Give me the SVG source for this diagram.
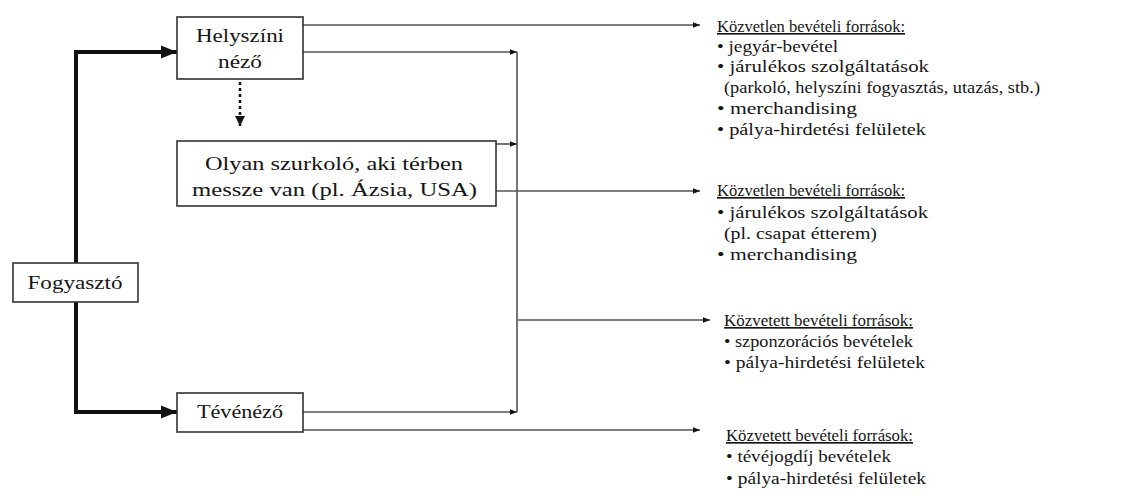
<svg xmlns="http://www.w3.org/2000/svg" width="1148" height="497" viewBox="0 0 1148 497">
<style>
.box{fill:#fff;stroke:#333;stroke-width:1.6}
.t{font-family:"Liberation Serif",serif;font-size:16.5px;fill:#151515}
.b{font-family:"Liberation Serif",serif;font-size:18px;fill:#151515;text-anchor:middle}
.h{text-decoration:underline}
.ln{fill:none;stroke:#555;stroke-width:1.6}
.thick{fill:none;stroke:#111;stroke-width:4}
.dot{fill:none;stroke:#111;stroke-width:2.5;stroke-dasharray:3 3}
</style>
<defs>
<marker id="a" viewBox="0 0 10 10" refX="10" refY="5" markerWidth="7" markerHeight="7" markerUnits="userSpaceOnUse" orient="auto"><path d="M0,1 L10,5 L0,9 z" fill="#111"/></marker>
<marker id="ab" viewBox="0 0 10 10" refX="10" refY="5" markerWidth="4" markerHeight="4" orient="auto"><path d="M0,1 L10,5 L0,9 z" fill="#111"/></marker>
<marker id="ad" viewBox="0 0 10 10" refX="10" refY="5" markerWidth="4" markerHeight="4" orient="auto"><path d="M0,0 L10,5 L0,10 z" fill="#111"/></marker>
</defs>
<g id="connectors">
<path class="thick" d="M76 263 V52 H177" marker-end="url(#ab)"/>
<path class="thick" d="M76 302 V412 H177" marker-end="url(#ab)"/>
<path class="dot" d="M240 82 V126" marker-end="url(#ad)"/>
<path class="ln" d="M303 25 H700" marker-end="url(#a)"/>
<path class="ln" d="M303 52 H517" marker-end="url(#a)"/>
<path class="ln" d="M496 144 H517" marker-end="url(#a)"/>
<path class="ln" d="M496 191 H700" marker-end="url(#a)"/>
<path class="ln" d="M303 412 H517" marker-end="url(#a)"/>
<path class="ln" d="M303 430 H700" marker-end="url(#a)"/>
<path class="ln" d="M517 52 V412"/>
<path class="ln" d="M517 320 H710" marker-end="url(#a)"/>
</g>
<g id="helyszini">
<rect class="box" x="177" y="17" width="126" height="62"/>
<text class="b" x="240" y="42" textLength="88" lengthAdjust="spacingAndGlyphs">Helyszíni</text>
<text class="b" x="240" y="68" textLength="44" lengthAdjust="spacingAndGlyphs">néző</text>
</g>
<g id="olyan">
<rect class="box" x="177" y="141" width="319" height="65"/>
<text class="b" x="334" y="170" textLength="258" lengthAdjust="spacingAndGlyphs">Olyan szurkoló, aki térben</text>
<text class="b" x="334.5" y="196" textLength="285" lengthAdjust="spacingAndGlyphs">messze van (pl. Ázsia, USA)</text>
</g>
<g id="fogyaszto">
<rect class="box" x="13" y="263" width="125" height="39"/>
<text class="b" x="75" y="289" textLength="95" lengthAdjust="spacingAndGlyphs">Fogyasztó</text>
</g>
<g id="teve">
<rect class="box" x="177" y="393" width="126" height="39"/>
<text class="b" x="240" y="418" textLength="86" lengthAdjust="spacingAndGlyphs">Tévénéző</text>
</g>
<g id="group1">
<text class="t h" x="717" y="32" textLength="188" lengthAdjust="spacingAndGlyphs">Közvetlen bevételi források:</text>
<text class="t" x="717" y="52" textLength="121" lengthAdjust="spacingAndGlyphs">• jegyár-bevétel</text>
<text class="t" x="717" y="72" textLength="212" lengthAdjust="spacingAndGlyphs">• járulékos szolgáltatások</text>
<text class="t" x="724" y="93" textLength="316" lengthAdjust="spacingAndGlyphs">(parkoló, helyszíni fogyasztás, utazás, stb.)</text>
<text class="t" x="717" y="114" textLength="140" lengthAdjust="spacingAndGlyphs">• merchandising</text>
<text class="t" x="717" y="135" textLength="209" lengthAdjust="spacingAndGlyphs">• pálya-hirdetési felületek</text>
</g>
<g id="group2">
<text class="t h" x="717" y="196" textLength="188" lengthAdjust="spacingAndGlyphs">Közvetlen bevételi források:</text>
<text class="t" x="717" y="218" textLength="211" lengthAdjust="spacingAndGlyphs">• járulékos szolgáltatások</text>
<text class="t" x="724" y="239" textLength="153" lengthAdjust="spacingAndGlyphs">(pl. csapat étterem)</text>
<text class="t" x="717" y="260" textLength="140" lengthAdjust="spacingAndGlyphs">• merchandising</text>
</g>
<g id="group3">
<text class="t h" x="724" y="326" textLength="189" lengthAdjust="spacingAndGlyphs">Közvetett bevételi források:</text>
<text class="t" x="724" y="347" textLength="189" lengthAdjust="spacingAndGlyphs">• szponzorációs bevételek</text>
<text class="t" x="724" y="368" textLength="201" lengthAdjust="spacingAndGlyphs">• pálya-hirdetési felületek</text>
</g>
<g id="group4">
<text class="t h" x="726" y="441" textLength="187" lengthAdjust="spacingAndGlyphs">Közvetett bevételi források:</text>
<text class="t" x="726" y="462" textLength="165" lengthAdjust="spacingAndGlyphs">• tévéjogdíj bevételek</text>
<text class="t" x="726" y="484" textLength="200" lengthAdjust="spacingAndGlyphs">• pálya-hirdetési felületek</text>
</g>
</svg>
